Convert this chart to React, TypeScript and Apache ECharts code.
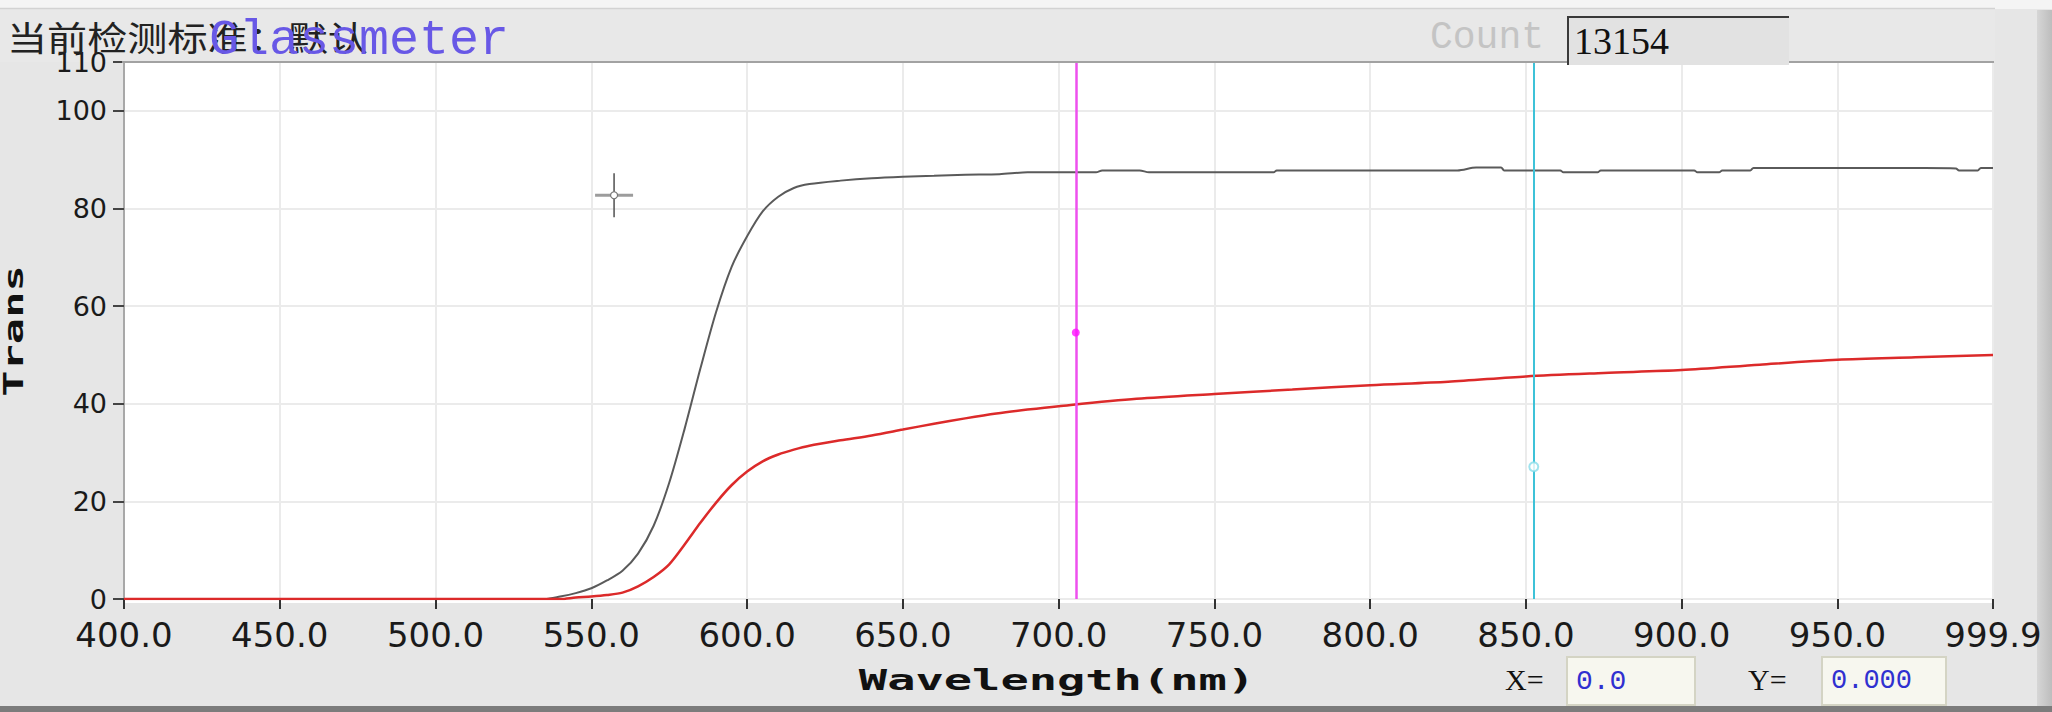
import React, { useEffect, useRef } from "react";
import * as echarts from "echarts";

const W = 2052;
const H = 712;

// axis ranges / ticks
const xMin = 400;
const xMax = 999.9;
const xInterval = 50;
const yMin = 0;
const yMax = 110;
const yInterval = 20;

// gray (reference) curve
const grayWavelength = [
  400, 535, 540, 545, 550, 555, 560, 565, 570, 575, 580, 585, 590, 595, 600, 605, 610, 615, 620, 630,
  640, 650, 660, 670, 681, 690, 712, 714, 726, 729, 769, 770, 828, 834, 842, 843, 861, 862, 873, 874,
  904, 905, 912, 913, 922, 923, 978, 988, 989, 995, 996, 999.9,
];
const grayTrans = [
  0, 0, 0.5, 1.2, 2.2, 3.8, 5.8, 9.3, 15.0, 23.8, 35.0, 47.2, 58.7, 68.0, 74.3, 79.4, 82.4, 84.2, 85.0, 85.7,
  86.2, 86.5, 86.7, 86.9, 87.0, 87.4, 87.4, 87.8, 87.8, 87.4, 87.4, 87.8, 87.8, 88.4, 88.4, 87.8, 87.8, 87.4, 87.4, 87.8,
  87.8, 87.4, 87.4, 87.8, 87.8, 88.3, 88.3, 88.2, 87.8, 87.8, 88.3, 88.3,
];

// red (sample) curve
const redWavelength = [
  400, 540, 545, 550, 555, 560, 565, 570, 575, 580, 585, 590, 595, 600, 605, 610, 615, 620, 630, 640,
  650, 660, 670, 680, 690, 700, 725, 750, 775, 800, 825, 850, 875, 900, 925, 950, 975, 999.9,
];
const redTrans = [
  0, 0, 0.3, 0.5, 0.8, 1.3, 2.6, 4.5, 7.1, 11.2, 15.6, 19.7, 23.3, 26.1, 28.2, 29.6, 30.6, 31.4, 32.5, 33.5,
  34.7, 35.9, 37.0, 38.0, 38.8, 39.5, 41.0, 42.0, 42.9, 43.8, 44.5, 45.6, 46.3, 46.9, 48.0, 49.0, 49.5, 50.0,
];

// cursors
const magentaCursorNm = 705.5;
const magentaMarkerT = 54.6;
const cyanCursorNm = 852.5;
const cyanMarkerT = 27.1;
const crossNm = 557.3;
const crossT = 82.7;

// texts
const headerText = "当前检测标准：默认";
const brandText = "Glassmeter";
const countLabel = "Count";
const countValue = "13154";
const xReadout = "0.0";
const yReadout = "0.000";
const xAxisName = "Wavelength(nm)";
const yAxisName = "Trans";

function pairs(xs: number[], ys: number[]) {
  return xs.map((x, i) => [x, ys[i]]);
}

export default function App() {
  const ref = useRef<HTMLDivElement>(null);
  useEffect(() => {
    document.body.style.margin = "0";
    const chart = echarts.init(ref.current!, null, { renderer: "svg", width: W, height: H });
    const option: any = {
      animation: false,
      backgroundColor: "#e6e6e6",
      grid: {
        left: 124,
        right: W - 1993,
        top: 62,
        bottom: H - 599,
        show: true,
        backgroundColor: "#ffffff",
        borderWidth: 0,
      },
      xAxis: {
        type: "value",
        min: xMin,
        max: xMax,
        interval: xInterval,
        offset: 4,
        axisLine: { show: false },
        axisTick: { show: true, inside: false, length: 10, lineStyle: { color: "#333", width: 2 } },
        axisLabel: {
          margin: 15,
          formatter: (v: number) => v.toFixed(1),
          fontFamily: "DejaVu Sans",
          fontSize: 34,
          color: "#1a1a1a",
        },
        splitLine: { show: true, lineStyle: { color: "#ebebeb", width: 2 } },
      },
      yAxis: {
        type: "value",
        min: yMin,
        max: yMax,
        interval: yInterval,
        axisLine: { show: true, lineStyle: { color: "#a8a8a8", width: 2 } },
        axisTick: { show: true, inside: false, length: 11, lineStyle: { color: "#444", width: 2 } },
        axisLabel: {
          margin: 17,
          fontFamily: "DejaVu Sans",
          fontSize: 27,
          color: "#1a1a1a",
        },
        splitLine: { show: true, lineStyle: { color: "#ebebeb", width: 2 } },
      },
      series: [
        {
          type: "line",
          data: pairs(grayWavelength, grayTrans),
          showSymbol: false,
          smooth: 0.3,
          lineStyle: { color: "#5a5a5a", width: 2 },
          z: 3,
        },
        {
          type: "line",
          data: pairs(redWavelength, redTrans),
          showSymbol: false,
          smooth: 0.3,
          lineStyle: { color: "#dc2a2a", width: 2.5 },
          z: 4,
        },
        {
          type: "scatter",
          data: [[magentaCursorNm, magentaMarkerT]],
          symbol: "circle",
          symbolSize: 8,
          itemStyle: { color: "#ff10ff" },
          z: 6,
          markLine: {
            silent: true,
            symbol: ["none", "none"],
            label: { show: false },
            lineStyle: { color: "#ee50ee", width: 2.5, type: "solid" },
            data: [{ xAxis: magentaCursorNm }],
          },
        },
        {
          type: "scatter",
          data: [[cyanCursorNm, cyanMarkerT]],
          symbol: "emptyCircle",
          symbolSize: 9,
          itemStyle: { color: "#86dcea", borderWidth: 1.5 },
          z: 6,
          markLine: {
            silent: true,
            symbol: ["none", "none"],
            label: { show: false },
            lineStyle: { color: "#3ec2d8", width: 2, type: "solid" },
            data: [{ xAxis: cyanCursorNm }],
          },
        },
        {
          type: "custom",
          silent: true,
          z: 7,
          data: [[crossNm, crossT]],
          renderItem: (params: any, api: any) => {
            const p = api.coord([api.value(0), api.value(1)]);
            return {
              type: "group",
              children: [
                { type: "line", shape: { x1: p[0] - 19, y1: p[1], x2: p[0] + 19, y2: p[1] }, style: { stroke: "#9c9c9c", lineWidth: 3 } },
                { type: "line", shape: { x1: p[0], y1: p[1] - 22, x2: p[0], y2: p[1] + 22 }, style: { stroke: "#505050", lineWidth: 1.5 } },
                { type: "circle", shape: { cx: p[0], cy: p[1], r: 3.5 }, style: { stroke: "#777", fill: "#fff", lineWidth: 1.2 } },
              ],
            };
          },
        },
      ],
      graphic: [
        { type: "rect", z: -10, shape: { x: 0, y: 0, width: W, height: 9 }, style: { fill: "#f4f4f4" } },
        { type: "rect", z: -9, shape: { x: 0, y: 9, width: 1995, height: 53 }, style: { fill: "#e8e8e8" } },
        { type: "line", z: -8, shape: { x1: 0, y1: 8.5, x2: 1995, y2: 8.5 }, style: { stroke: "#d2d2d2", lineWidth: 1.5 } },
        {
          type: "rect",
          z: -8,
          shape: { x: 2037, y: 10, width: 15, height: H - 10 },
          style: {
            fill: new echarts.graphic.LinearGradient(0, 0, 1, 0, [
              { offset: 0, color: "#d6d6d6" },
              { offset: 1, color: "#bdbdbd" },
            ]),
          },
        },
        { type: "rect", z: -8, shape: { x: 0, y: 706, width: W, height: 6 }, style: { fill: "#7c7c7c" } },
        { type: "rect", z: -5, shape: { x: 124, y: 599, width: 1869, height: 4 }, style: { fill: "#ffffff" } },
        { type: "line", z: 50, shape: { x1: 122, y1: 62, x2: 1994, y2: 62 }, style: { stroke: "#a2a2a2", lineWidth: 2 } },
        // header texts
        {
          type: "text", z: 60, x: 7, y: 36, scaleX: 1.18,
          style: { text: headerText, font: '34px "Noto Sans CJK SC"', fill: "#222", align: "left", verticalAlign: "middle" },
        },
        {
          type: "text", z: 61, x: 209, y: 40,
          style: { text: brandText, font: '50px "Liberation Mono"', fill: "#6858e6", align: "left", verticalAlign: "middle" },
        },
        {
          type: "text", z: 60, x: 1430, y: 37,
          style: { text: countLabel, font: '38px "Liberation Mono"', fill: "#c4c4c4", align: "left", verticalAlign: "middle" },
        },
        { type: "rect", z: 60, shape: { x: 1567, y: 16, width: 222, height: 49 }, style: { fill: "#e2e2e2" } },
        { type: "line", z: 61, shape: { x1: 1567, y1: 17, x2: 1789, y2: 17 }, style: { stroke: "#3a3a3a", lineWidth: 2 } },
        { type: "line", z: 61, shape: { x1: 1568, y1: 16, x2: 1568, y2: 65 }, style: { stroke: "#3a3a3a", lineWidth: 2 } },
        {
          type: "text", z: 62, x: 1574, y: 41,
          style: { text: countValue, font: '38px "Liberation Serif"', fill: "#111", align: "left", verticalAlign: "middle" },
        },
        // axis names
        {
          type: "text", z: 60, x: 1057, y: 680, scaleX: 1.68,
          style: { text: xAxisName, font: 'bold 28px "DejaVu Sans Mono"', fill: "#111", align: "center", verticalAlign: "middle" },
        },
        {
          type: "text", z: 60, x: 14, y: 331, rotation: Math.PI / 2, scaleX: 1.68,
          style: { text: yAxisName, font: 'bold 26px "DejaVu Sans Mono"', fill: "#111", align: "center", verticalAlign: "middle" },
        },
        // readouts
        {
          type: "text", z: 60, x: 1505, y: 679,
          style: { text: "X=", font: '30px "Liberation Serif"', fill: "#111", align: "left", verticalAlign: "middle" },
        },
        { type: "rect", z: 60, shape: { x: 1567, y: 657, width: 128, height: 48 }, style: { fill: "#f7f7ef", stroke: "#d4d4c4", lineWidth: 2 } },
        {
          type: "text", z: 61, x: 1576, y: 681,
          style: { text: xReadout, font: '28px "Liberation Mono"', fill: "#3030d0", align: "left", verticalAlign: "middle" },
        },
        {
          type: "text", z: 60, x: 1748, y: 679,
          style: { text: "Y=", font: '30px "Liberation Serif"', fill: "#111", align: "left", verticalAlign: "middle" },
        },
        { type: "rect", z: 60, shape: { x: 1822, y: 657, width: 124, height: 48 }, style: { fill: "#f7f7ef", stroke: "#d4d4c4", lineWidth: 2 } },
        {
          type: "text", z: 61, x: 1831, y: 681,
          style: { text: yReadout, font: '27px "Liberation Mono"', fill: "#3030d0", align: "left", verticalAlign: "middle" },
        },
      ],
    };
    chart.setOption(option);
    return () => chart.dispose();
  }, []);
  return <div ref={ref} style={{ position: "absolute", left: 0, top: 0, width: W, height: H }} />;
}
